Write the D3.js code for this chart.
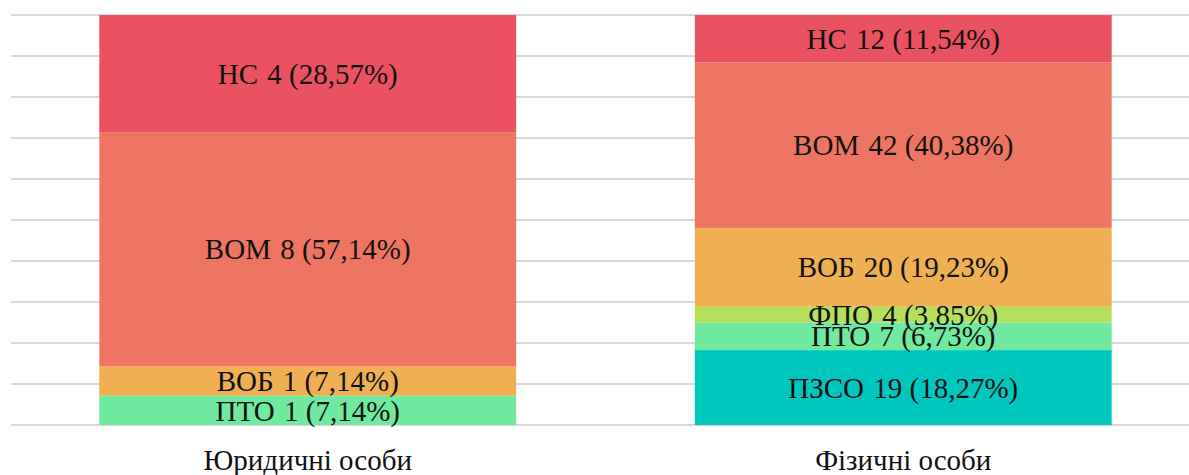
<!DOCTYPE html>
<html>
<head>
<meta charset="utf-8">
<script src="https://cdn.jsdelivr.net/npm/d3@7"></script>
<style>
  html, body { margin: 0; padding: 0; background: #ffffff; overflow: hidden; }
  svg { display: block; }
</style>
</head>
<body>
<svg id="chart" width="1189" height="475"></svg>
<script>
// Groups of applicants shown as bars
const categories = ["Юридичні особи", "Фізичні особи"];

// Stack order, bottom to top
const seriesNames = ["ПЗСО", "ПТО", "ФПО", "ВОБ", "ВОМ", "НС"];

// Counts per series, in category order
const valuesПЗСО = [0, 19];
const valuesПТО  = [1, 7];
const valuesФПО  = [0, 4];
const valuesВОБ  = [1, 20];
const valuesВОМ  = [8, 42];
const valuesНС   = [4, 12];

const seriesColors = ["#00C7BE", "#6FEA9E", "#B4E05C", "#EEB052", "#EE7561", "#EB525F"];

// Percentage gridlines
const gridTicks = [0, 10, 20, 30, 40, 50, 60, 70, 80, 90, 100];

const FONT = '"Liberation Serif"';
const FONT_SIZE = 29;

const seriesValues = {
  "ПЗСО": valuesПЗСО, "ПТО": valuesПТО, "ФПО": valuesФПО,
  "ВОБ": valuesВОБ, "ВОМ": valuesВОМ, "НС": valuesНС
};

const rows = categories.map((c, i) => {
  const r = { category: c };
  seriesNames.forEach(s => { r[s] = seriesValues[s][i]; });
  r.total = d3.sum(seriesNames, s => r[s]);
  return r;
});

const svg = d3.select("#chart");
const plotTop = 15, plotBottom = 425, plotLeft = 10, plotRight = 1201;

const x = d3.scaleBand().domain(categories).range([plotLeft, plotRight])
  .paddingInner(0.3).paddingOuter(0.15);
const y = d3.scaleLinear().domain([0, 100]).range([plotBottom, plotTop]);
const color = d3.scaleOrdinal().domain(seriesNames).range(seriesColors);

// Gridlines
svg.append("g")
  .selectAll("line")
  .data(gridTicks)
  .join("line")
  .attr("x1", 11).attr("x2", 1189)
  .attr("y1", d => y(d)).attr("y2", d => y(d))
  .attr("stroke", "#d9d9d9").attr("stroke-width", 2);

// Normalise each row to percent and stack
const pctRows = rows.map(r => {
  const o = { category: r.category, total: r.total };
  seriesNames.forEach(s => { o[s] = r[s] / r.total * 100; });
  return o;
});
const stacked = d3.stack().keys(seriesNames)(pctRows);

const fmt = v => d3.format(".2f")(v).replace(".", ",");

const layer = svg.append("g").selectAll("g")
  .data(stacked)
  .join("g")
  .attr("fill", d => color(d.key));

layer.selectAll("rect")
  .data(d => d.filter(p => p[1] - p[0] > 0))
  .join("rect")
  .attr("x", d => x(d.data.category))
  .attr("width", x.bandwidth())
  .attr("y", d => y(d[1]))
  .attr("height", d => y(d[0]) - y(d[1]));

// Segment labels: name, count and share
const labels = [];
stacked.forEach(ser => {
  ser.forEach(p => {
    const count = rows.find(r => r.category === p.data.category)[ser.key];
    if (count > 0) {
      labels.push({
        name: ser.key,
        rest: `${count} (${fmt(p[1] - p[0])}%)`,
        cx: x(p.data.category) + x.bandwidth() / 2,
        cy: (y(p[0]) + y(p[1])) / 2
      });
    }
  });
});

const lbl = svg.append("g")
  .selectAll("text")
  .data(labels)
  .join("text")
  .attr("x", d => d.cx)
  .attr("y", d => d.cy)
  .attr("dy", "0.35em")
  .attr("text-anchor", "middle")
  .style("font-family", FONT)
  .style("font-size", FONT_SIZE + "px")
  .attr("fill", "#111");
lbl.append("tspan").text(d => d.name + " ");
lbl.append("tspan").attr("dx", 2).text(d => d.rest);

// Category axis labels
svg.append("g")
  .selectAll("text")
  .data(categories)
  .join("text")
  .attr("x", d => x(d) + x.bandwidth() / 2)
  .attr("y", 469.5)
  .attr("text-anchor", "middle")
  .style("font-family", FONT)
  .style("font-size", FONT_SIZE + "px")
  .attr("fill", "#111")
  .text(d => d);
</script>
</body>
</html>
